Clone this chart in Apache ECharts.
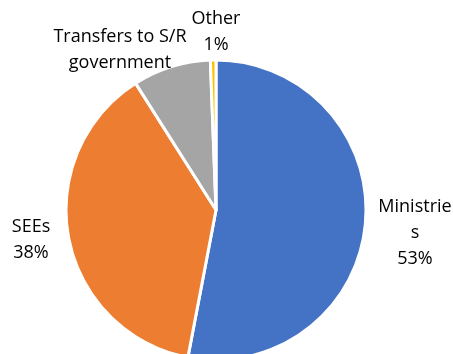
<!DOCTYPE html>
<html><head><meta charset="utf-8">
<script src="https://cdn.jsdelivr.net/npm/echarts@6/dist/echarts.min.js"></script>
<style>html,body{margin:0;padding:0;background:#fff}#c{width:453px;height:354px}</style>
</head><body><div id="c"></div>
<script>
const categories = ["Ministries", "SEEs", "Transfers to S/R government", "Other"];
const values = [53, 38, 8.4, 0.6];
const labelNames = ["Ministrie\ns", "SEEs", "Transfers to S/R\ngovernment", "Other"];
const showPercent = [true, true, false, true];
const colors = ["#4472C4", "#ED7D31", "#A5A5A5", "#FFC000"];

const labelPos = [[415, 233], [31, 240], [120, 50], [216, 32]];

const chart = echarts.init(document.getElementById('c'));
chart.setOption({
  animation: false,
  series: [{
    type: 'pie',
    center: [216, 210],
    radius: [0, 150],
    startAngle: 90,
    clockwise: true,
    avoidLabelOverlap: false,
    itemStyle: { borderColor: '#fff', borderWidth: 3 },
    label: {
      show: true,
      position: 'outside',
      formatter: p => labelNames[p.dataIndex] + (showPercent[p.dataIndex] ? '\n' + Math.round(p.percent) + '%' : ''),
      fontFamily: 'Open Sans',
      fontSize: 18,
      lineHeight: 26,
      color: '#000',
      align: 'center'
    },
    labelLine: { show: false },
    labelLayout: p => ({ x: labelPos[p.dataIndex][0], y: labelPos[p.dataIndex][1], align: 'center', verticalAlign: 'middle' }),
    data: categories.map((c, i) => ({ name: c, value: values[i], itemStyle: { color: colors[i] } }))
  }]
});
</script></body></html>
